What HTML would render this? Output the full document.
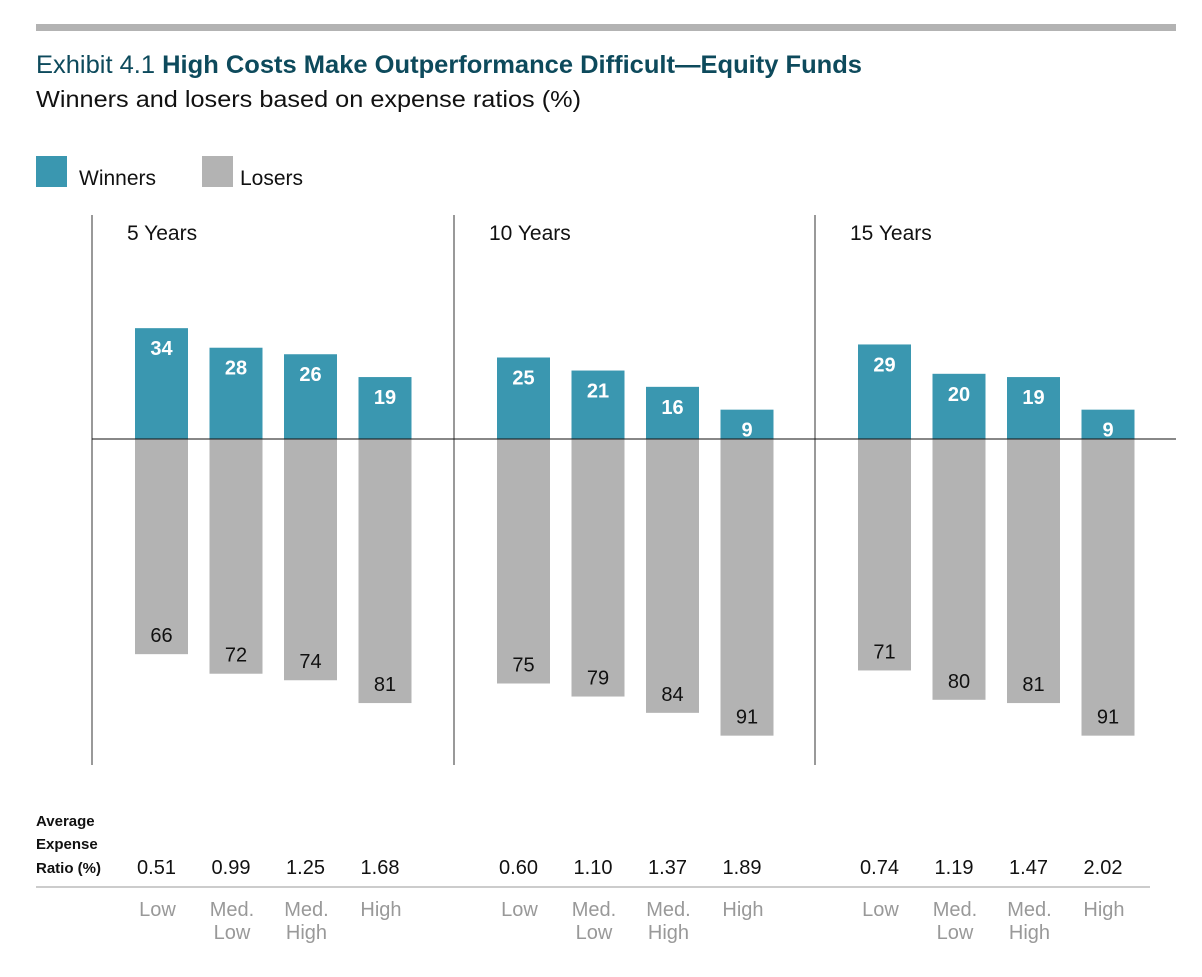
<!DOCTYPE html>
<html><head><meta charset="utf-8"><style>
body{margin:0;background:#fff;}
svg text{font-family:"Liberation Sans",sans-serif;}
</style></head><body>
<svg width="1202" height="972" viewBox="0 0 1202 972" xmlns="http://www.w3.org/2000/svg">
<rect x="36" y="24" width="1140" height="7" fill="#b3b3b3"/>
<text x="36" y="73" font-size="25" fill="#0d4a5c" textLength="826" lengthAdjust="spacingAndGlyphs">Exhibit 4.1 <tspan font-weight="bold">High Costs Make Outperformance Difficult—Equity Funds</tspan></text>
<text x="36" y="107" font-size="23" fill="#111" textLength="545" lengthAdjust="spacingAndGlyphs">Winners and losers based on expense ratios (%)</text>
<rect x="36" y="156" width="31" height="31" fill="#3a97b0"/>
<text x="79" y="185" font-size="21" fill="#111">Winners</text>
<rect x="202" y="156" width="31" height="31" fill="#b3b3b3"/>
<text x="240" y="185" font-size="21" fill="#111">Losers</text>
<text x="36" y="826" font-size="15" font-weight="bold" fill="#111">Average</text>
<text x="36" y="849" font-size="15" font-weight="bold" fill="#111">Expense</text>
<text x="36" y="873" font-size="15" font-weight="bold" fill="#111">Ratio (%)</text>
<line x1="36" y1="887" x2="1150" y2="887" stroke="#999" stroke-width="1"/>
<g id="plot"></g>
</svg>
<script>
const panels=["5 Years","10 Years","15 Years"];
const categories=["Low","Med. Low","Med. High","High"];
const winners=[[34,28,26,19],[25,21,16,9],[29,20,19,9]];
const losers=[[66,72,74,81],[75,79,84,91],[71,80,81,91]];
const ratios=[["0.51","0.99","1.25","1.68"],["0.60","1.10","1.37","1.89"],["0.74","1.19","1.47","2.02"]];
const NS="http://www.w3.org/2000/svg";
const g=document.getElementById('plot');
const zeroY=439, k=3.26;
const yv=v=>v*k;
const panelX=[92,454,815];
const xBar=(p,i)=>panelX[p]+43+i*74.5;
const bw=53;
function mk(t,a){const e=document.createElementNS(NS,t);for(const n in a)e.setAttribute(n,a[n]);g.appendChild(e);return e;}
panels.forEach((pn,p)=>{
  const d=mk('line',{x1:panelX[p],y1:215,x2:panelX[p],y2:765,stroke:'#333','stroke-width':1});
  
  
  const t=mk('text',{x:panelX[p]+35,y:240,'font-size':21,fill:'#111'});t.textContent=pn;
  
  
  categories.forEach((c,i)=>{
    const x=xBar(p,i), cx=x+bw/2;
    const w=winners[p][i], l=losers[p][i];
    const r1=mk('rect',{x:x,y:zeroY-yv(w),width:bw,height:yv(w),fill:'#3a97b0'});
    
    
    const r2=mk('rect',{x:x,y:zeroY,width:bw,height:yv(l),fill:'#b3b3b3'});
    
    
    const t1=mk('text',{x:cx,y:zeroY-yv(w)+27,'font-size':20,'font-weight':'bold',fill:'#fff','text-anchor':'middle'});t1.textContent=w;
    
    
    const t2=mk('text',{x:cx,y:zeroY+yv(l)-12,'font-size':20,fill:'#111','text-anchor':'middle'});t2.textContent=l;
    
    
    const t3=mk('text',{x:cx-5,y:874,'font-size':20,fill:'#111','text-anchor':'middle'});t3.textContent=ratios[p][i];
    
    
    const parts=c.split(' ');
    parts.forEach((s,j)=>{
      const t4=mk('text',{x:cx-4,y:916+j*23,'font-size':20,fill:'#999','text-anchor':'middle'});t4.textContent=s;
      
      
    });
  });
});
const z=mk('line',{x1:92,y1:zeroY,x2:1176,y2:zeroY,stroke:'#111','stroke-width':1});


</script>
</body></html>
